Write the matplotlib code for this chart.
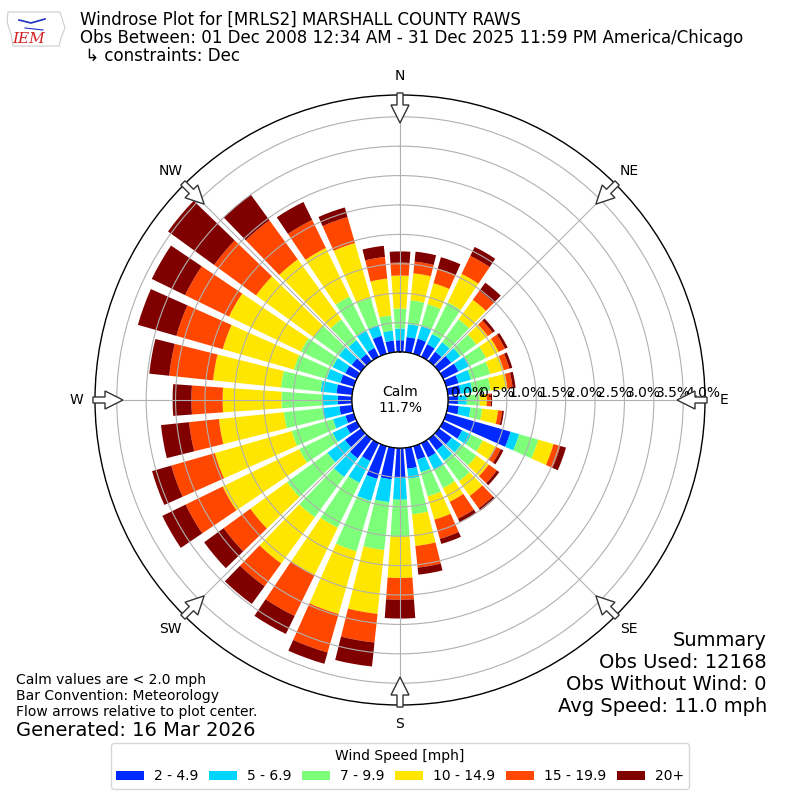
import numpy as np
import matplotlib
matplotlib.use('Agg')
import matplotlib.pyplot as plt
from matplotlib.patches import FancyArrow, Polygon

# ---------------- data ----------------
directions = list(range(0, 360, 10))
speed_labels = ['2 - 4.9', '5 - 6.9', '7 - 9.9', '10 - 14.9', '15 - 19.9', '20+']
s_2_5 = [0.20, 0.26, 0.27, 0.24, 0.20, 0.26, 0.29, 0.22, 0.22, 0.17, 0.19, 1.14,
         0.36, 0.27, 0.24, 0.27, 0.24, 0.36, 0.51, 0.54, 0.58, 0.34, 0.41, 0.34,
         0.20, 0.15, 0.22, 0.24, 0.27, 0.24, 0.22, 0.20, 0.15, 0.17, 0.32, 0.20]
s_5_7 = [0.20, 0.22, 0.22, 0.19, 0.20, 0.19, 0.20, 0.22, 0.20, 0.15, 0.20, 0.15,
         0.17, 0.20, 0.22, 0.24, 0.22, 0.17, 0.37, 0.39, 0.39, 0.41, 0.39, 0.37,
         0.26, 0.22, 0.29, 0.26, 0.27, 0.24, 0.24, 0.27, 0.29, 0.32, 0.19, 0.17]
s_7_10 = [0.34, 0.41, 0.39, 0.60, 0.48, 0.34, 0.32, 0.34, 0.31, 0.22, 0.20, 0.34,
          0.22, 0.32, 0.43, 0.34, 0.43, 0.61, 0.63, 0.82, 0.89, 0.85, 0.85, 0.85,
          0.63, 0.73, 0.66, 0.70, 0.68, 0.58, 0.60, 0.53, 0.44, 0.65, 0.48, 0.26]
s_10_15 = [0.56, 0.46, 0.37, 0.54, 0.41, 0.24, 0.24, 0.24, 0.29, 0.12, 0.27, 0.27,
           0.24, 0.26, 0.31, 0.26, 0.41, 0.54, 0.70, 1.09, 1.11, 0.90, 0.97, 0.77,
           1.45, 1.36, 1.11, 1.00, 1.16, 1.26, 1.36, 1.21, 1.26, 0.92, 0.97, 0.63]
s_15_20 = [0.22, 0.20, 0.26, 0.34, 0.19, 0.10, 0.12, 0.10, 0.09, 0.07, 0.07, 0.12,
           0.10, 0.17, 0.26, 0.32, 0.34, 0.37, 0.37, 0.49, 0.68, 0.77, 0.48, 0.56,
           0.70, 0.77, 0.51, 0.53, 0.75, 0.82, 0.83, 0.88, 0.82, 0.53, 0.46, 0.37]
s_20p = [0.19, 0.17, 0.20, 0.17, 0.17, 0.05, 0.05, 0.05, 0.05, 0.02, 0.03, 0.10,
         0.05, 0.05, 0.05, 0.07, 0.09, 0.12, 0.32, 0.41, 0.20, 0.34, 0.37, 0.41,
         0.44, 0.34, 0.48, 0.32, 0.34, 0.68, 0.63, 0.97, 0.54, 0.34, 0.17, 0.19]
series = [s_2_5, s_5_7, s_7_10, s_10_15, s_15_20, s_20p]
calm_pct = 11.7
r_ticks = [0.0, 0.5, 1.0, 1.5, 2.0, 2.5, 3.0, 3.5, 4.0]
compass = ['N', 'NE', 'E', 'SE', 'S', 'SW', 'W', 'NW']
compass_deg = [0, 45, 90, 135, 180, 225, 270, 315]

title_lines = ['Windrose Plot for [MRLS2] MARSHALL COUNTY RAWS',
               'Obs Between: 01 Dec 2008 12:34 AM - 31 Dec 2025 11:59 PM America/Chicago',
               ' \u21b3 constraints: Dec']
notes = ['Calm values are < 2.0 mph', 'Bar Convention: Meteorology',
         'Flow arrows relative to plot center.']
generated = 'Generated: 16 Mar 2026'
summary = ['Summary', 'Obs Used: 12168', 'Obs Without Wind: 0', 'Avg Speed: 11.0 mph']

# ---------------- figure ----------------
W = H = 800
fig = plt.figure(figsize=(8, 8), dpi=100)
R_PX = 305.0
ax = fig.add_axes([(400 - R_PX) / W, (400 - R_PX) / H, 2 * R_PX / W, 2 * R_PX / H],
                  projection='polar')
ax.set_theta_zero_location('N')
ax.set_theta_direction(-1)
rmax = 4.37
ax.set_ylim(0, rmax)
ax.set_rorigin(-0.816)

theta = np.deg2rad(directions)
width = np.deg2rad(10) * 0.8
colors = plt.cm.jet(np.arange(1, 7) / 6.0)
bottom = np.zeros(len(directions))
for vals, lab, c in zip(series, speed_labels, colors):
    v = np.asarray(vals)
    ax.bar(theta, v, width=width, bottom=bottom, color=c, label=lab,
           linewidth=0, align='center')
    bottom = bottom + v

ax.set_yticks(r_ticks)
ax.set_yticklabels([])
ax.set_xticks(np.deg2rad(compass_deg))
ax.set_xticklabels([])
ax.grid(True, color='#b0b0b0', lw=0.8)
ax.spines['polar'].set_color('black')
ax.spines['polar'].set_linewidth(1.0)

# calm circle
tt = np.linspace(0, 2 * np.pi, 721)
ax.plot(tt, np.zeros_like(tt), color='black', lw=1.0, zorder=4)
ax.text(0, -0.816, 'Calm\n%.1f%%' % calm_pct, ha='center', va='center',
        fontsize=10, zorder=6)

# radial labels
for v in r_ticks:
    ax.text(np.pi / 2, v + 0.03, '%.1f%%' % v, ha='left', va='bottom', fontsize=10,
            zorder=6)

# compass labels
r_lab = (324 - 48) / 58.8
for name, d in zip(compass, compass_deg):
    ax.text(np.deg2rad(d), r_lab, name, ha='center', va='center', fontsize=10,
            clip_on=False)

# flow arrows
D = 2 * R_PX
for d in compass_deg:
    a = np.deg2rad(d)
    sx, sy = np.sin(a), np.cos(a)
    r0 = 307 / D
    L = 30 / D
    arr = FancyArrow(0.5 + r0 * sx, 0.5 + r0 * sy, -L * sx, -L * sy,
                     width=6 / D, head_width=18 / D,
                     head_length=18 / D, length_includes_head=True,
                     transform=ax.transAxes, clip_on=False, facecolor='white',
                     edgecolor='#333333', lw=1.0, zorder=7)
    ax.add_patch(arr)

# titles
for i, line in enumerate(title_lines):
    fig.text(80 / W, 1 - (20 + 18 * i) / H, line, ha='left', va='center', fontsize=12)

# notes
for i, line in enumerate(notes):
    fig.text(16 / W, 1 - (680 + 16 * i) / H, line, ha='left', va='center', fontsize=10)
fig.text(16 / W, 1 - 730 / H, generated, ha='left', va='center', fontsize=14)

for i, line in enumerate(summary):
    fig.text(767 / W, 1 - (640 + 22 * i) / H, line, ha='right', va='center', fontsize=14)

# logo (simplified)
lax = fig.add_axes([5 / W, 1 - 52 / H, 62 / W, 46 / H])
lax.set_xlim(0, 62)
lax.set_ylim(46, 0)
lax.axis('off')
outline = Polygon([[3, 6], [55, 6], [57, 12], [60, 22], [56, 32], [54, 40], [8, 40],
                   [6, 28], [2, 16]], closed=True, facecolor='white',
                  edgecolor='#cccccc', lw=0.8)
lax.add_patch(outline)
lax.plot([14, 26, 40], [14, 17, 13], color='#2030c0', lw=1.2)
lax.plot([20, 38], [22, 24], color='#2030c0', lw=0.8)
lax.text(24, 33, 'IEM', color='#d02020', fontsize=11, family='DejaVu Serif',
         style='italic', ha='center', va='center')

# legend
handles, labels = ax.get_legend_handles_labels()
fig.legend(handles, labels, loc='center', bbox_to_anchor=(0.5, 1 - 766 / H), ncol=6,
           title='Wind Speed [mph]', fontsize=10, title_fontsize=10,
           columnspacing=0.8, handletextpad=0.7)

fig.savefig('out.png', dpi=100)
